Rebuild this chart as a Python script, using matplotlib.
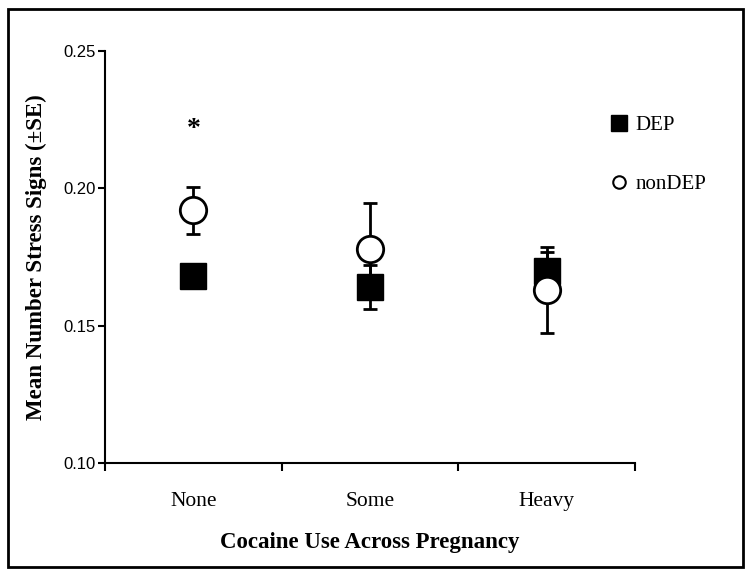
import matplotlib
matplotlib.use("Agg")
import matplotlib.pyplot as plt
from matplotlib.lines import Line2D
from matplotlib.patches import Rectangle

categorias = ["None", "Some", "Heavy"]
dep_media = [0.168, 0.164, 0.170]
dep_se = [0.004, 0.008, 0.007]
nondep_media = [0.192, 0.178, 0.163]
nondep_se = [0.0085, 0.0167, 0.0155]
asterisco_y = 0.2215

SERIF = ["Liberation Serif", "DejaVu Serif"]
SANS = ["Liberation Sans", "DejaVu Sans"]

fig = plt.figure(figsize=(7.5, 5.72), dpi=100)
ax = fig.add_axes([0.14, 0.1906, 0.7067, 0.7202])

x = [i + 0.5 for i in range(len(categorias))]

ax.errorbar(x, dep_media, yerr=dep_se, fmt="s", color="black", ms=19,
            mfc="black", mec="black", ecolor="black", elinewidth=2,
            capsize=5, capthick=2, zorder=3)
ax.errorbar(x, nondep_media, yerr=nondep_se, fmt="o", color="black", ms=19,
            mfc="white", mec="black", mew=2, ecolor="black", elinewidth=2,
            capsize=5, capthick=2, zorder=4)

ax.text(x[0], asterisco_y, "*", ha="center", va="center", fontsize=20,
        fontweight="bold", family=SERIF)

ax.set_xlim(0, 3)
ax.set_ylim(0.10, 0.25)
ax.set_xticks([0, 1, 2, 3])
ax.set_xticklabels([])
ax.set_xticks(x, minor=True)
ax.set_xticklabels(categorias, minor=True, fontsize=15.5, family=SERIF)
ax.tick_params(axis="x", which="minor", length=0, pad=21)
ax.tick_params(axis="x", which="major", length=6, width=1.5, direction="out")
ax.set_yticks([0.10, 0.15, 0.20, 0.25])
ax.set_yticklabels(["0.10", "0.15", "0.20", "0.25"], fontsize=12, family=SANS)
ax.tick_params(axis="y", length=5, width=1.5, direction="out", pad=1.5)

for lado in ["top", "right"]:
    ax.spines[lado].set_visible(False)
for lado in ["left", "bottom"]:
    ax.spines[lado].set_linewidth(1.5)

ax.set_xlabel("Cocaine Use Across Pregnancy", fontsize=16.5,
              fontweight="bold", family=SERIF, labelpad=15)
ax.set_ylabel("Mean Number Stress Signs (\u00b1SE)", fontsize=16.5,
              fontweight="bold", family=SERIF, labelpad=12)

alcas = [
    Line2D([], [], ls="none", marker="s", ms=11, mfc="black", mec="black"),
    Line2D([], [], ls="none", marker="o", ms=9, mfc="white", mec="black",
           mew=1.5),
]
fig.legend(alcas, ["DEP", "nonDEP"], loc="upper left",
           bbox_to_anchor=(0.789, 0.831), frameon=False,
           prop={"family": SERIF, "size": 15}, handlelength=0.8,
           handletextpad=0.4, labelspacing=1.9)

fig.add_artist(Rectangle((0.0107, 0.0087), 0.98, 0.9755,
                         transform=fig.transFigure, fill=False,
                         edgecolor="black", linewidth=2))

fig.savefig("out.png", dpi=100)
